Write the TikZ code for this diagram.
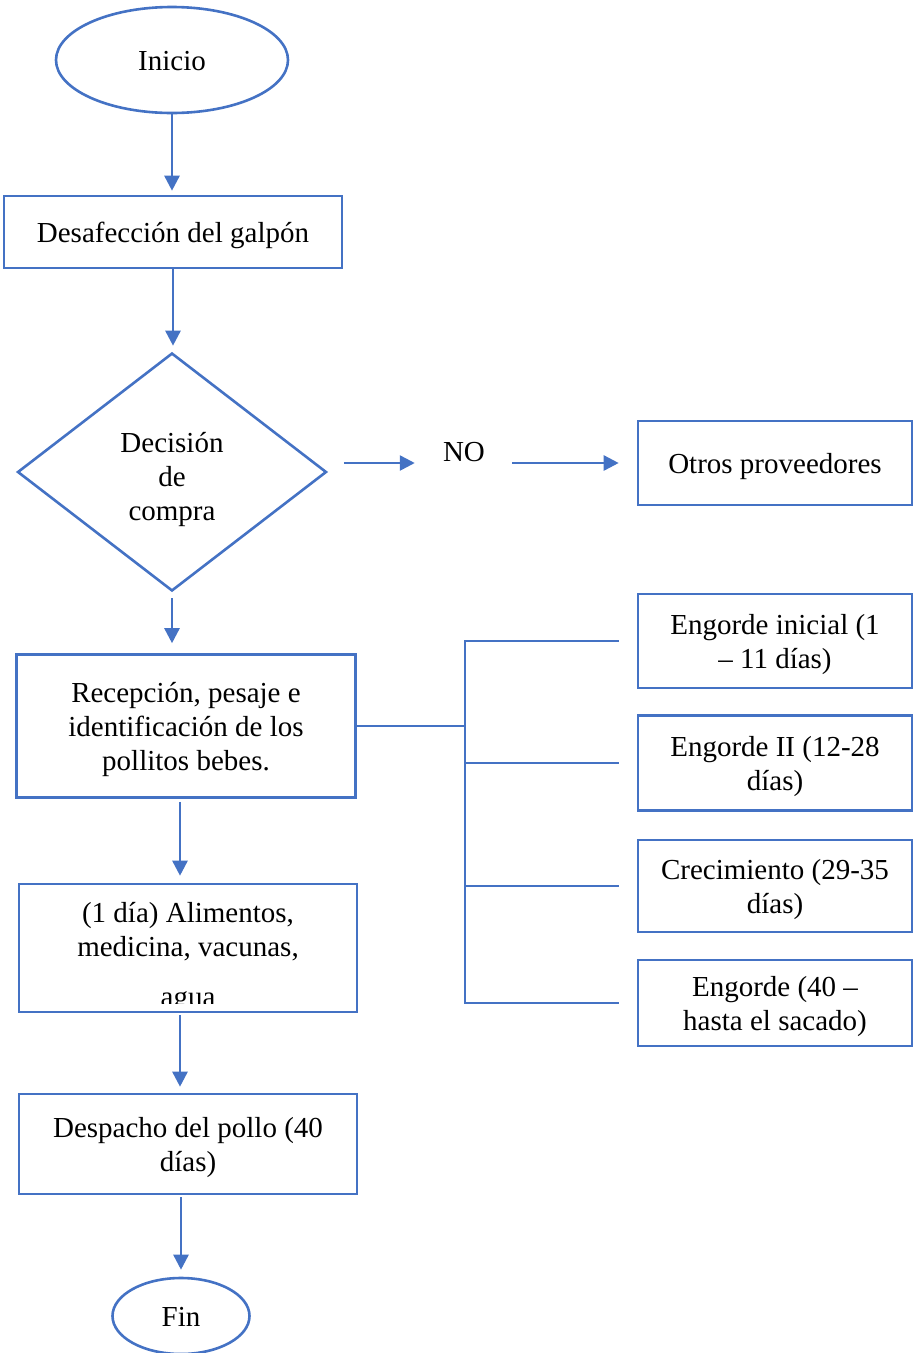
\documentclass[tikz,border=0pt]{standalone}
\usepackage{fontspec}
\setmainfont{Liberation Serif}
\usetikzlibrary{shapes.geometric,arrows.meta}
\definecolor{azul}{HTML}{4472C4}
\newcommand{\lin}{\rule[-7pt]{0pt}{34pt}}

\begin{document}
\begin{tikzpicture}[line width=2.6pt,node distance=172pt,
                    every node/.style={font=\fontsize{29pt}{34pt}\selectfont},
                    caja/.style={rectangle,draw=azul,align=center,inner sep=0pt},
                    fin/.style={ellipse,draw=azul,inner sep=0pt},
                    flecha/.style={draw=azul,-{Triangle[width=15pt,length=15pt]}},
                    linea/.style={draw=azul,line cap=rect},
                    ]
                    \useasboundingbox (0,0) rectangle (914pt,-1353pt);

                    \node [fin, minimum width=232pt, minimum height=106pt](1) at (172pt,-60pt){\lin Inicio};
                    \node [caja, minimum width=338pt, minimum height=72pt](2) [below of = 1, xshift = 1pt]{\lin Desafección del galpón};
                    \node [diamond, draw=azul, align=center, inner sep=0pt, minimum width=309pt, minimum height=238pt](3) [below of = 2, node distance=240pt, xshift = -1pt]{\rule[-7pt]{0pt}{42pt}Decisión\\de\\compra\lin};
                    \node [inner sep=0pt](4) [right of = 3, node distance=292pt, yshift = 20pt]{NO};
                    \node [caja, minimum width=274pt, minimum height=84pt](5) [right of = 3, node distance=603pt, yshift = 9pt]{\lin Otros proveedores};

                    \node [caja, minimum width=339pt, minimum height=143pt](6) [below of = 3, node distance=254pt, xshift = 14pt]{\lin Recepción, pesaje e\\identificación de los\\pollitos bebes.\lin};
                    \node [caja, minimum width=338pt, minimum height=128pt](7) [below of = 6, node distance=222pt, xshift = 2pt]{};
                    \node [align=center, anchor=north](7a) at ([yshift=-15pt]7.north){(1 día) Alimentos,\\medicina, vacunas,};
                    \begin{scope}
                        \clip (7.north west) rectangle ([yshift=10pt]7.south east);
                        \node [anchor=base](7b) at ([yshift=7pt]7.south){agua};
                    \end{scope}
                    \node [caja, minimum width=338pt, minimum height=100pt](8) [below of = 7, node distance=196pt]{\lin Despacho del pollo (40\\días)\lin};
                    \node [fin, minimum width=137pt, minimum height=76pt](9) [below of = 8, xshift = -7pt]{\lin Fin};

                    \node [caja, minimum width=274pt, minimum height=94pt](10) [below of = 5, node distance=178pt]{\lin Engorde inicial (1\\– 11 días)\lin};
                    \node [caja, minimum width=274pt, minimum height=95pt](11) [below of = 10, node distance=122pt]{\lin Engorde II (12-28\\días)\lin};
                    \node [caja, minimum width=274pt, minimum height=92pt](12) [below of = 11, node distance=123pt]{\lin Crecimiento (29-35\\días)\lin};
                    \node [caja, minimum width=274pt, minimum height=86pt](13) [below of = 12, node distance=117pt]{\lin Engorde (40 –\\hasta el sacado)\lin};

                    \node [coordinate](b) [right of = 6, node distance=279pt]{};

                    % flujo principal
                    \draw[flecha, shorten >=4pt] (1.south) -- (1.south |- 2.north);
                    \draw[flecha, shorten >=6pt] (2.south) -- (2.south |- 3.north);
                    \draw[flecha, shorten <=16pt, shorten >=27pt] (3.east |- 5.west) -- (4.west |- 5.west);
                    \draw[flecha, shorten <=26pt, shorten >=18pt] (4.east |- 5.west) -- (5.west);
                    \draw[flecha, shorten <=6pt, shorten >=10pt] (3.south) -- (3.south |- 6.north);
                    \draw[flecha, shorten <=3pt, shorten >=7pt] ([xshift=-6pt]6.south) -- ([xshift=-6pt]6.south |- 7.north);
                    \draw[flecha, shorten <=2pt, shorten >=6pt] ([xshift=-8pt]7.south) -- ([xshift=-8pt]7.south |- 8.north);
                    \draw[flecha, shorten <=2pt, shorten >=7pt] (8.south -| 9.north) -- (9.north);

                    % etapas de engorde
                    \draw[linea] (6.east) -- (b);
                    \draw[linea] (b |- 10.west) -- (b |- 13.west);
                    \foreach \n in {10,11,12,13}
                        \draw[linea, line cap=butt, shorten >=18pt] (b |- \n.west) -- (\n.west);

                \end{tikzpicture}
\end{document}
